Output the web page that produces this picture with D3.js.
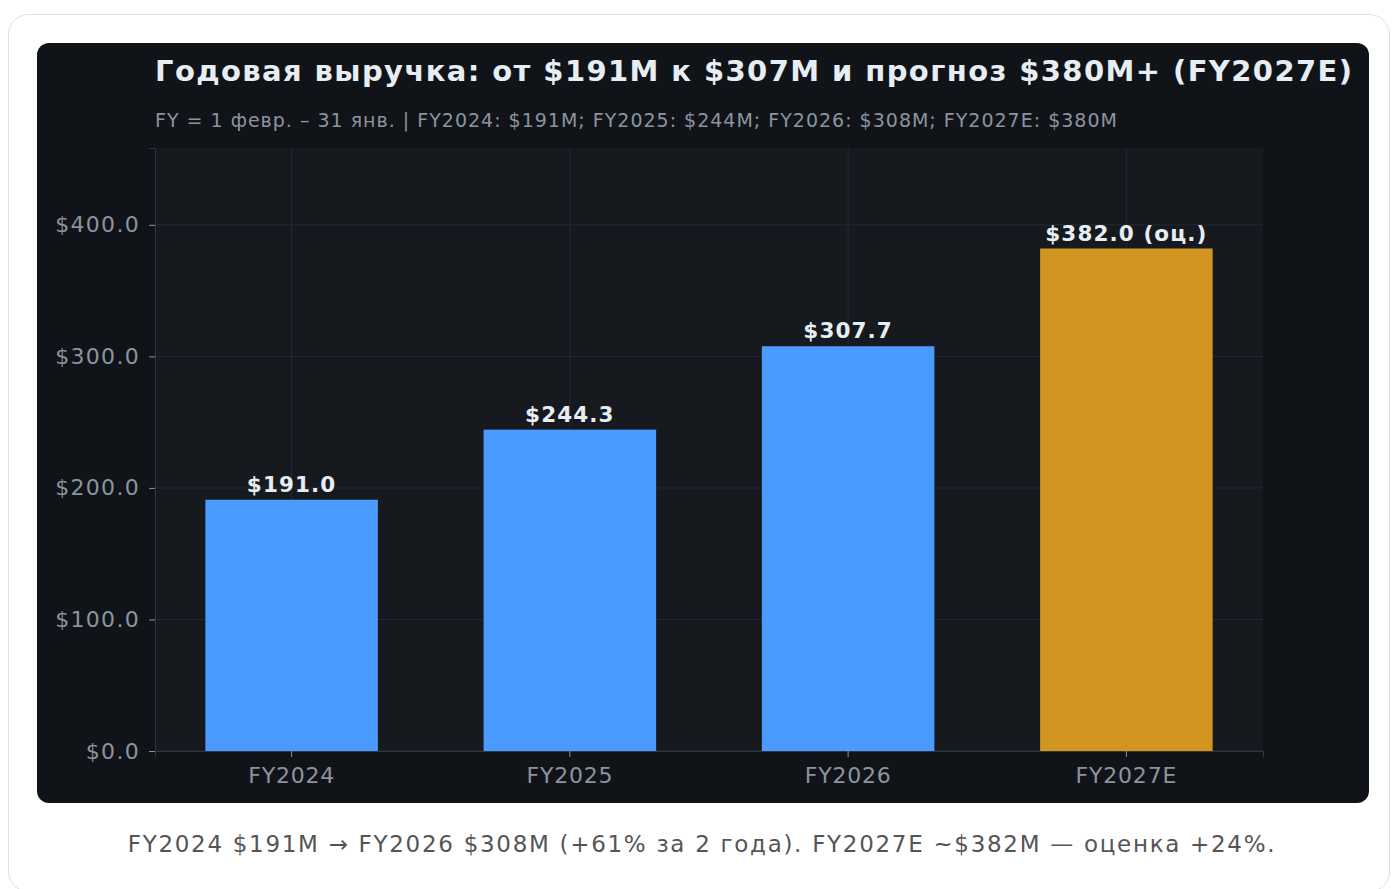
<!DOCTYPE html>
<html>
<head>
<meta charset="utf-8">
<script src="https://cdn.jsdelivr.net/npm/d3@7"></script>
<style>
  body { margin: 0; background: #fff; font-family: "DejaVu Sans", sans-serif; }
  svg { display: block; }
</style>
</head>
<body>
<div id="chart"></div>
<script>
const years = ['FY2024', 'FY2025', 'FY2026', 'FY2027E'];
const revenue = [191.0, 244.3, 307.7, 382.0];
const estimate = [false, false, false, true];
const yTicks = [0, 100, 200, 300, 400];

const title = 'Годовая выручка: от $191M к $307M и прогноз $380M+ (FY2027E)';
const subtitle = 'FY = 1 февр. – 31 янв. | FY2024: $191M; FY2025: $244M; FY2026: $308M; FY2027E: $380M';
const caption = 'FY2024 $191M → FY2026 $308M (+61% за 2 года). FY2027E ~$382M — оценка +24%.';

const W = 1396, H = 889;
const plot = { left: 155, right: 1263, top: 148, bottom: 751 };

const svg = d3.select('#chart').append('svg')
  .attr('width', W)
  .attr('height', H);

// card + dark panel
svg.append('rect')
  .attr('x', 8.5).attr('y', 14.5)
  .attr('width', 1381).attr('height', 877)
  .attr('rx', 20)
  .attr('fill', '#fff')
  .attr('stroke', '#dcdfe3');

svg.append('rect')
  .attr('x', 37).attr('y', 43)
  .attr('width', 1332).attr('height', 760)
  .attr('rx', 12)
  .attr('fill', '#101418');

svg.append('rect')
  .attr('x', plot.left).attr('y', plot.top)
  .attr('width', plot.right - plot.left).attr('height', plot.bottom - plot.top)
  .attr('fill', '#161a1f');

const x = d3.scaleBand()
  .domain(years)
  .range([plot.left, plot.right])
  .paddingInner(0.38)
  .paddingOuter(0.181);

const y = d3.scaleLinear()
  .domain([0, d3.max(revenue) * 1.2])
  .range([plot.bottom, plot.top]);

// grid
svg.append('g').selectAll('line')
  .data(yTicks)
  .join('line')
    .attr('x1', plot.left).attr('x2', plot.right)
    .attr('y1', d => y(d)).attr('y2', d => y(d))
    .attr('stroke', '#232838')
    .attr('stroke-width', 1);

svg.append('g').selectAll('line')
  .data(years)
  .join('line')
    .attr('x1', d => x(d) + x.bandwidth() / 2).attr('x2', d => x(d) + x.bandwidth() / 2)
    .attr('y1', plot.top).attr('y2', plot.bottom)
    .attr('stroke', '#232838')
    .attr('stroke-width', 1);

// bars
svg.append('g').selectAll('rect')
  .data(years)
  .join('rect')
    .attr('x', d => x(d))
    .attr('width', x.bandwidth())
    .attr('y', (d, i) => y(revenue[i]))
    .attr('height', (d, i) => y(0) - y(revenue[i]))
    .attr('fill', (d, i) => estimate[i] ? '#d29520' : '#4a9aff');

// value labels
svg.append('g').selectAll('text')
  .data(years)
  .join('text')
    .attr('x', d => x(d) + x.bandwidth() / 2)
    .attr('y', (d, i) => y(revenue[i]) - 8)
    .attr('text-anchor', 'middle')
    .attr('fill', '#e6edf3')
    .attr('font-weight', 'bold')
    .attr('font-size', 21.5)
    .attr('letter-spacing', 1.1)
    .text((d, i) => `$${revenue[i].toFixed(1)}` + (estimate[i] ? ' (оц.)' : ''));

// axes
const axisY = svg.append('g')
  .attr('transform', `translate(${plot.left},0)`)
  .call(d3.axisLeft(y).tickValues(yTicks).tickFormat(d => `$${d.toFixed(1)}`).tickSize(6).tickPadding(9))
  .call(g => g.select('.domain').attr('stroke', '#2f3542'));
axisY.selectAll('.tick line').attr('stroke', '#8b949e');
axisY.selectAll('.tick text')
  .attr('fill', '#8b949e')
  .attr('font-size', 22)
  .attr('letter-spacing', 1.3)
  .attr('font-family', '"DejaVu Sans", sans-serif');

const axisX = svg.append('g')
  .attr('transform', `translate(0,${plot.bottom})`)
  .call(d3.axisBottom(x).tickSize(6).tickPadding(10))
  .call(g => g.select('.domain').attr('stroke', '#2f3542'));
axisX.selectAll('.tick line').attr('stroke', '#8b949e');
axisX.selectAll('.tick text')
  .attr('fill', '#8b949e')
  .attr('font-size', 22)
  .attr('letter-spacing', 0.8)
  .attr('font-family', '"DejaVu Sans", sans-serif');

// titles
svg.append('text')
  .attr('x', plot.left).attr('y', 81)
  .attr('fill', '#e6edf3')
  .attr('font-weight', 'bold')
  .attr('font-size', 29)
  .attr('letter-spacing', 1.4)
  .text(title);

svg.append('text')
  .attr('x', plot.left).attr('y', 127)
  .attr('fill', '#8b949e')
  .attr('font-size', 19)
  .attr('letter-spacing', 1.0)
  .text(subtitle);

svg.append('text')
  .attr('x', 702).attr('y', 852)
  .attr('text-anchor', 'middle')
  .attr('fill', '#555')
  .attr('font-size', 23)
  .attr('letter-spacing', 1.7)
  .text(caption);
</script>
</body>
</html>
